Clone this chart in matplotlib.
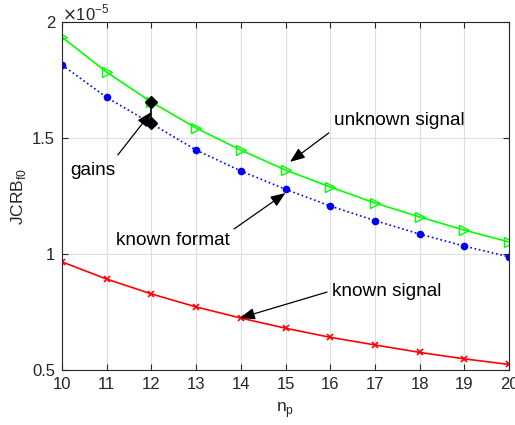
import matplotlib
matplotlib.use("Agg")
import matplotlib.pyplot as plt
import numpy as np

plt.rcParams['font.family'] = ['Liberation Sans', 'DejaVu Sans']

n_p = [10, 11, 12, 13, 14, 15, 16, 17, 18, 19, 20]
unknown_signal = [1.935, 1.784, 1.655, 1.543, 1.448, 1.362, 1.289, 1.220, 1.160, 1.103, 1.052]
known_format = [1.815, 1.675, 1.562, 1.448, 1.358, 1.279, 1.207, 1.144, 1.086, 1.034, 0.988]
known_signal = [0.966, 0.892, 0.828, 0.772, 0.724, 0.680, 0.641, 0.608, 0.576, 0.548, 0.524]
gains_x = [12, 12]
gains_y = [1.655, 1.565]

fig = plt.figure(figsize=(5.15, 4.25), dpi=100)
ax = fig.add_axes([62/515, 1-370/425, (509-62)/515, (370-22)/425])

ax.plot(n_p, unknown_signal, color='#00ff00', lw=1.2, marker='>', ms=7,
        mfc='none', mec='#00ff00', mew=1.0)
ax.plot(n_p, known_format, color='blue', lw=1.2, ls=':', marker='.', ms=9)
ax.plot(n_p, known_signal, color='red', lw=1.2, marker='x', ms=4, mew=1.2)
ax.plot(gains_x, gains_y, color='black', lw=1.2, marker='D', ms=6)

ax.set_xlim(10, 20)
ax.set_ylim(0.5, 2)
ax.set_xticks(n_p)
ax.set_yticks([0.5, 1, 1.5, 2])
ax.set_yticklabels(['0.5', '1', '1.5', '2'])
ax.grid(True, color='#dedede', lw=0.8)
ax.set_axisbelow(True)
ax.tick_params(direction='in', top=True, right=True, labelsize=12,
               colors='#262626', length=4, pad=5)
for s in ax.spines.values():
    s.set_color('#262626')
    s.set_linewidth(0.8)

ax.set_xlabel('n$_\\mathregular{p}$', fontsize=12.5, color='#262626', labelpad=6)
ax.set_ylabel('JCRB$_\\mathregular{f0}$', fontsize=12.5, color='#262626', labelpad=3)
ax.text(0.0, 0.995, '$\\times$10$^{\\mathregular{-5}}$', transform=ax.transAxes,
        fontsize=12, color='#262626', ha='left', va='bottom')

akw = dict(arrowstyle='-|>,head_length=0.9,head_width=0.35', color='black', lw=0.9,
           shrinkA=0, shrinkB=0)
fs = 13.7
ax.annotate('', xy=(12, 1.612), xytext=(11.25, 1.427), arrowprops=akw)
ax.text(10.18, 1.36, 'gains', fontsize=fs, va='center', ha='left')
ax.annotate('', xy=(15.0, 1.263), xytext=(13.85, 1.108), arrowprops=akw)
ax.text(11.2, 1.06, 'known format', fontsize=fs, va='center', ha='left')
ax.annotate('', xy=(15.1, 1.397), xytext=(15.97, 1.522), arrowprops=akw)
ax.text(16.08, 1.575, 'unknown signal', fontsize=fs, va='center', ha='left')
ax.annotate('', xy=(13.98, 0.724), xytext=(15.93, 0.836), arrowprops=akw)
ax.text(16.03, 0.84, 'known signal', fontsize=fs, va='center', ha='left')

fig.savefig('out.png', dpi=100)
